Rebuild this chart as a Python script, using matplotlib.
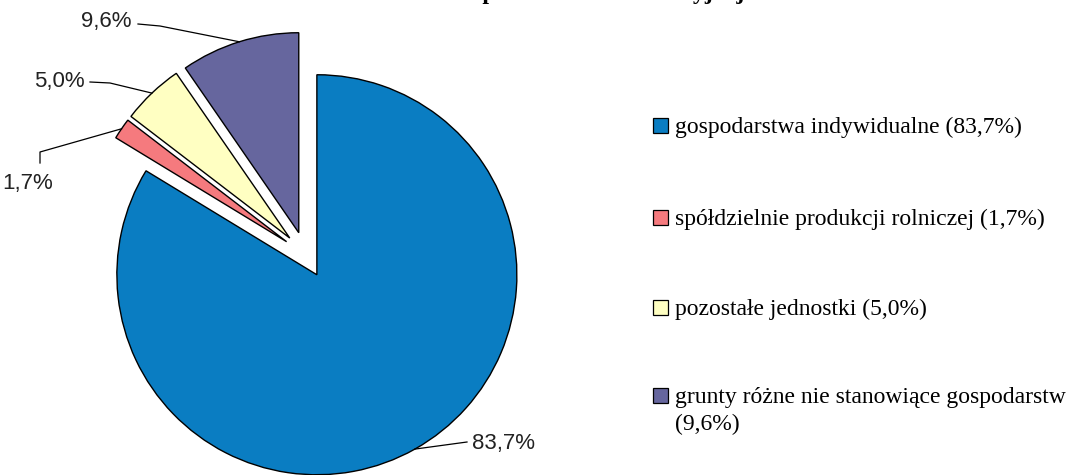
import numpy as np
import matplotlib.pyplot as plt

# dane
kategorie = ["gospodarstwa indywidualne (83,7%)",
             "spółdzielnie produkcji rolniczej (1,7%)",
             "pozostałe jednostki (5,0%)",
             "grunty różne nie stanowiące gospodarstw\n(9,6%)"]
udzialy = [83.7, 1.7, 5.0, 9.6]
etykiety = ["83,7%", "1,7%", "5,0%", "9,6%"]
kolory = ["#0A7DC2", "#F57A7E", "#FFFFC2", "#66669E"]

W, H = 1077, 475
fig = plt.figure(figsize=(W / 100, H / 100), dpi=100)
ax = fig.add_axes([0, 0, 1, 1])

# srodek i promien w pikselach (os w ukladzie pikseli)
cx, cy, R = 305.6, H - 254.7, 200
wedges, _ = ax.pie(udzialy, colors=kolory, startangle=90, counterclock=False,
                   center=(cx, cy), radius=R, explode=[23] * 4,
                   wedgeprops=dict(edgecolor="black", linewidth=1.0))
ax.set_xlim(0, W)
ax.set_ylim(0, H)
ax.set_aspect("equal")
ax.axis("off")


def punkt_na_luku(w):
    m = np.deg2rad((w.theta1 + w.theta2) / 2)
    x0, y0 = w.center
    return x0 + w.r * np.cos(m), y0 + w.r * np.sin(m)


lab = dict(fontsize=16, family="Liberation Sans", color="#222222", va="center")
lin = dict(color="black", lw=0.9)

# 83,7%
px, py = punkt_na_luku(wedges[0])
ax.plot([px, 467], [py, H - 442], **lin)
ax.text(472, H - 443, etykiety[0], ha="left", **lab)

# 1,7%
px, py = punkt_na_luku(wedges[1])
ax.plot([40, 40, px], [H - 163, H - 152, py], **lin)
ax.text(2, H - 184, etykiety[1], ha="left", **lab)

# 5,0%
px, py = punkt_na_luku(wedges[2])
ax.plot([90, 110, px], [H - 82, H - 83, py], **lin)
ax.text(85, H - 81, etykiety[2], ha="right", **lab)

# 9,6%
px, py = punkt_na_luku(wedges[3])
ax.plot([138, 160, px], [H - 24, H - 26, py], **lin)
ax.text(132, H - 22, etykiety[3], ha="right", **lab)

# legenda
wiersze = [125, 217, 307, 395]
for kat, kol, yy in zip(kategorie, kolory, wiersze):
    ax.add_patch(plt.Rectangle((653, H - yy - 7.5), 15, 15, facecolor=kol,
                               edgecolor="black", lw=0.9))
    ax.text(675, H - yy + 8, kat, ha="left", va="top", fontsize=17,
            family="Liberation Serif", color="black", linespacing=1.35)

# tytul (uciety u gory, jak w oryginale)
fig.text(0.52, 1.0 + 1 / H, "Struktura powierzchni ewidencyjnej", ha="center",
         va="baseline", fontsize=17, family="Liberation Serif",
         fontweight="bold")

fig.savefig("out.png", dpi=100, facecolor="white")
